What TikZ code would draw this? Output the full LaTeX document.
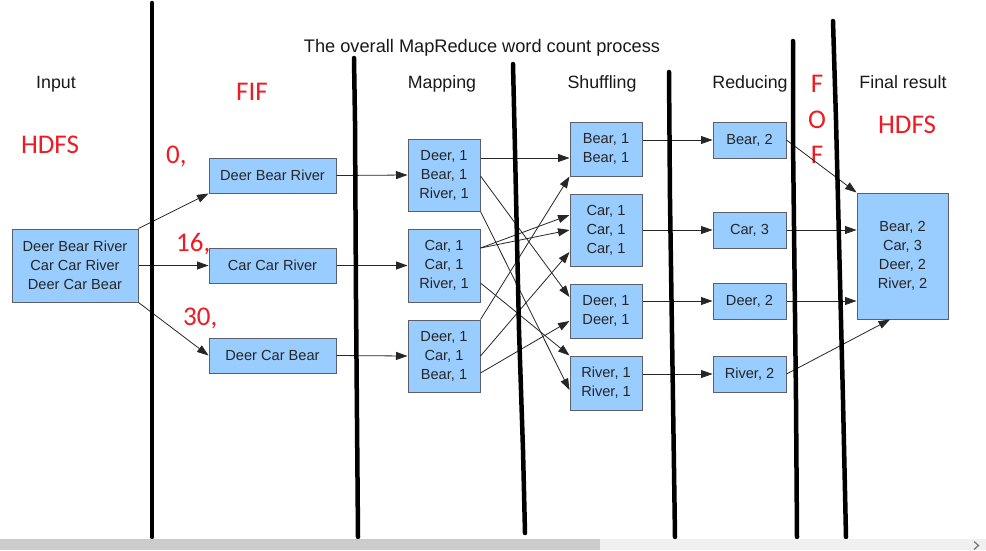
\documentclass[tikz,border=0pt]{standalone}
\usepackage{fontspec}
\setmainfont{Liberation Sans}
\newfontfamily\redfont{Carlito}
\usetikzlibrary{arrows.meta}
\definecolor{boxfill}{RGB}{153,204,255}
\definecolor{boxline}{RGB}{90,95,105}
\definecolor{redtxt}{RGB}{237,28,36}
\begin{document}
\begin{tikzpicture}[x=1pt,y=-1pt,
 box/.style={draw=boxline, fill=boxfill, line width=1pt, inner sep=0pt, align=center,
   font=\fontsize{14.6}{19}\selectfont, text=black!85},
 hdr/.style={font=\fontsize{17.8}{20}\selectfont, inner sep=0pt, text=black!90, anchor=base},
 redlab/.style={font=\redfont\fontsize{27}{30}\selectfont, text=redtxt, inner sep=0pt, anchor=base},
 conn/.style={draw=black!85, line width=0.8pt, -{Triangle[length=11.5pt,width=8pt]}},
 bar/.style={line width=4.5pt, black, line cap=round, line join=round}
]
\fill[white] (0,0) rectangle (986,550);
\useasboundingbox (0,0) rectangle (986,550);

% headers
\node[hdr, font=\fontsize{18.2}{20}\selectfont] (title) at (482,52.7) {The overall MapReduce word count process};
\node[hdr] (hinput) at (56,88) {Input};
\node[hdr] (hmap) at (442,88) {Mapping};
\node[hdr] (hshuf) at (602,88) {Shuffling};
\node[hdr] (hred) at (750,88) {Reducing};
\node[hdr] (hfin) at (903,88) {Final result};

% red annotations
\node[redlab] (hdfsl) at (50,153) {HDFS};
\node[redlab] (fif) at (252,100) {FIF};
\node[redlab, anchor=base west] (off0) at (166,163) {0,};
\node[redlab, anchor=base west] (off16) at (176,251) {16,};
\node[redlab, anchor=base west] (off30) at (183,325) {30,};
\node[redlab] (fof1) at (817,92) {F};
\node[redlab] (fof2) at (817,128) {O};
\node[redlab] (fof3) at (817,163) {F};
\node[redlab] (hdfsr) at (907,133) {HDFS};

% boxes
\node[box, minimum width=126, minimum height=73] (in) at (75,265.5) {Deer Bear River\\Car Car River\\Deer Car Bear};
\node[box, minimum width=127, minimum height=35] (s1) at (272.5,175.5) {Deer Bear River};
\node[box, minimum width=127, minimum height=35] (s2) at (272.5,265.5) {Car Car River};
\node[box, minimum width=127, minimum height=35] (s3) at (272.5,355.5) {Deer Car Bear};

\node[box, minimum width=72, minimum height=72] (m1) at (444,175) {Deer, 1\\Bear, 1\\River, 1};
\node[box, minimum width=72, minimum height=73] (m2) at (444,265.5) {Car, 1\\Car, 1\\River, 1};
\node[box, minimum width=72, minimum height=72] (m3) at (444,356) {Deer, 1\\Car, 1\\Bear, 1};

\node[box, minimum width=72, minimum height=54] (sh1) at (606,149) {Bear, 1\\Bear, 1};
\node[box, minimum width=72, minimum height=72] (sh2) at (606,230) {Car, 1\\Car, 1\\Car, 1};
\node[box, minimum width=72, minimum height=54] (sh3) at (606,311) {Deer, 1\\Deer, 1};
\node[box, minimum width=72, minimum height=54] (sh4) at (606,383) {River, 1\\River, 1};

\node[box, minimum width=73, minimum height=36] (r1) at (749.5,140) {Bear, 2};
\node[box, minimum width=73, minimum height=36] (r2) at (749.5,230) {Car, 3};
\node[box, minimum width=73, minimum height=36] (r3) at (749.5,301) {Deer, 2};
\node[box, minimum width=73, minimum height=36] (r4) at (749.5,374) {River, 2};

\node[box, minimum width=91, minimum height=126] (f) at (902.5,256) {Bear, 2\\Car, 3\\Deer, 2\\River, 2};

% connectors
\draw[conn] (in.north east) -- (s1.south west);
\draw[conn] (in.east) -- (s2.west);
\draw[conn] (in.south east) -- (s3.west);
\draw[conn] (s1.east) -- (m1.west);
\draw[conn] (s2.east) -- (m2.west);
\draw[conn] (s3.east) -- (m3.west);

\draw[conn] ([yshift=17pt]m1.east) -- ([yshift=-9pt]sh1.west);
\draw[conn] ([yshift=-1pt]m1.east) -- ([yshift=14pt]sh3.west);
\draw[conn] (m1.south east) -- ([yshift=-7pt]sh4.west);
\draw[conn] ([yshift=17.5pt]m2.east) -- ([yshift=15pt]sh2.west);
\draw[conn] ([yshift=17.5pt]m2.east) -- (sh2.west);
\draw[conn] ([yshift=-17.5pt]m2.east) -- (sh4.north west);
\draw[conn] (m3.north east) -- (sh1.south west);
\draw[conn] (m3.east) -- ([yshift=-22pt]sh2.west);
\draw[conn] ([yshift=-17pt]m3.east) -- ([yshift=-10pt]sh3.west);

\draw[conn] (r1.west -| sh1.east) -- (r1.west);
\draw[conn] (r2.west -| sh2.east) -- (r2.west);
\draw[conn] (r3.west -| sh3.east) -- (r3.west);
\draw[conn] (r4.west -| sh4.east) -- (r4.west);

\draw[conn] (r1.east) -- (f.north west);
\draw[conn] (r2.east) -- (r2.east -| f.west);
\draw[conn] (r3.east) -- (r3.east -| f.west);
\draw[conn] (r4.east) -- ([xshift=-12.5pt]f.south);

% thick separator lines
\draw[bar] (152,3) -- (152,537);
\draw[bar] (354,58) -- (355,121) -- (356,300) -- (358,537);
\draw[bar] (513,64) -- (515,150) -- (519,330) -- (523,450) -- (525,533);
\draw[bar] (669,72) -- (670,200) -- (673,400) -- (675,537);
\draw[bar] (793,41) -- (793,140) -- (796,400) -- (797,537);
\draw[bar] (833,21) -- (836,120) -- (838,200) -- (843,400) -- (846,537);

% scrollbar
\fill[black!20] (0,539) rectangle (600,550);
\fill[black!6] (600,539) rectangle (986,550);
\draw[black!55, line width=1.2pt] (974,541.5) -- (978.5,545.5) -- (974,549.5);
\end{tikzpicture}
\end{document}
